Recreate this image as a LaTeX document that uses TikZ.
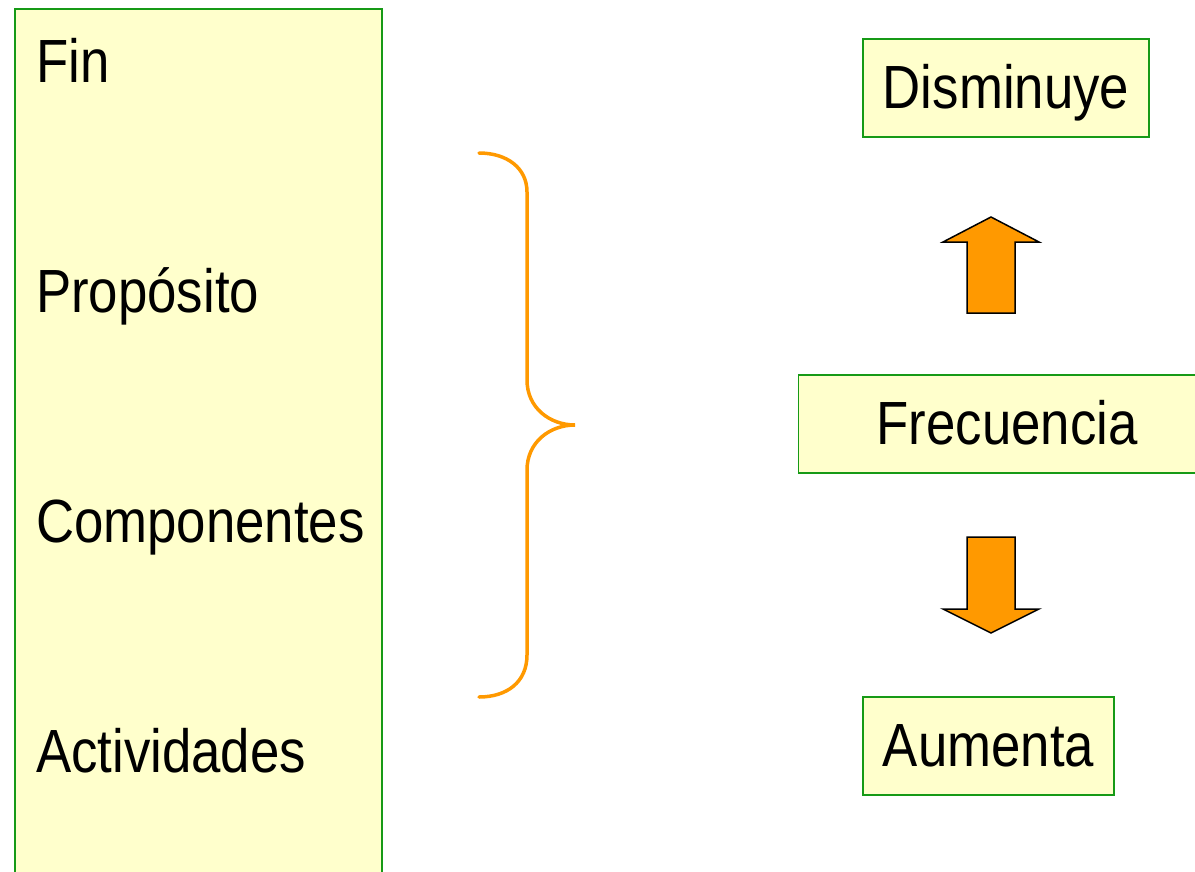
\documentclass[tikz,border=0pt]{standalone}
\usepackage{fontspec}
\setmainfont{Liberation Sans}[FakeStretch=0.865]
\definecolor{boxfill}{HTML}{FFFFCC}
\definecolor{boxline}{HTML}{169A16}
\definecolor{orng}{HTML}{FF9900}
\begin{document}
\begin{tikzpicture}[x=1pt,y=-1pt,
  box/.style={draw=boxline,fill=boxfill,line width=1.5pt,inner sep=0pt,
    font=\fontsize{61}{70}\selectfont,text height=40pt,text depth=0pt},
  word/.style={font=\fontsize{61}{70}\selectfont,inner sep=0pt},
  blockarrow/.style={draw=black,fill=orng,line width=1.5pt,line join=miter}]

\def\rowgap{230}
\def\shaft{24}
\def\head{48}

\useasboundingbox (0,0) rectangle (1195,871);

% levels column
\fill[boxfill] (15,9) rectangle (382,880);
\draw[boxline,line width=1.5pt] (15,880) -- (15,9) -- (382,9) -- (382,880);
\foreach \txt [count=\i] in {Fin,Propósito,Componentes,Actividades}
  \node[word,anchor=base west] (lvl\i) at (36,{82+(\i-1)*\rowgap}) {\txt};

% brace
\draw[orng,line width=3.5pt,line cap=round]
  (479,153) .. controls (507,153) and (527,168) .. (527,192) -- (527,380)
  .. controls (527,408) and (550,425) .. (575,425)
  .. controls (550,425) and (527,442) .. (527,470) -- (527,655)
  .. controls (527,682) and (507,697) .. (479,697);

% right side
\node[box,minimum width=286,minimum height=98] (dism) at (1006,88) {Disminuye};
\node[box,minimum width=397,minimum height=98] (frec) at (997,424) {\hspace*{20pt}Frecuencia};
\node[box,minimum width=251,minimum height=98] (aum) at (988.5,746) {Aumenta};

\coordinate (upT) at (991,217);
\coordinate (dnT) at (991,633);
\draw[blockarrow] (upT) -- ++(\head,25) -- ++(-\shaft,0) -- ++(0,71) -- ++(-2*\shaft,0)
  -- ++(0,-71) -- ++(-\shaft,0) -- cycle;
\draw[blockarrow] (dnT) -- ++(\head,-24) -- ++(-\shaft,0) -- ++(0,-72) -- ++(-2*\shaft,0)
  -- ++(0,72) -- ++(-\shaft,0) -- cycle;
\end{tikzpicture}
\end{document}
